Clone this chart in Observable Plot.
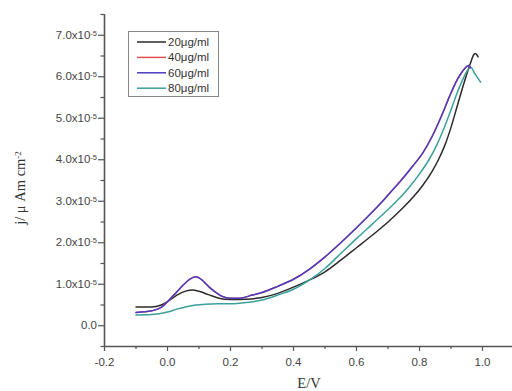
<!DOCTYPE html>
<html><head><meta charset="utf-8">
<script src="https://cdn.jsdelivr.net/npm/d3@7"></script>
<script src="https://cdn.jsdelivr.net/npm/@observablehq/plot@0.6"></script>
<style>body{margin:0;background:#fff} svg{display:block}</style>
</head><body><div id="chart"></div>
<script>
// Values of j are in units of 1e-5 A cm^-2
const seriesNames = ["20μg/ml", "40μg/ml", "60μg/ml", "80μg/ml"];
const seriesColors = ["#2b2b2b", "#e0524f", "#4b3cc4", "#3c9f9b"];

const E20 = [-0.10,-0.05,-0.02,0.00,0.03,0.06,0.08,0.10,0.13,0.16,0.20,0.25,0.30,0.35,0.40,0.45,0.50,0.55,0.60,0.65,0.70,0.75,0.78,0.81,0.84,0.86,0.88,0.90,0.92,0.94,0.955,0.965,0.972,0.977,0.986];
const J20 = [0.45,0.45,0.50,0.58,0.74,0.84,0.86,0.83,0.75,0.67,0.63,0.64,0.68,0.78,0.93,1.10,1.30,1.58,1.88,2.18,2.50,2.86,3.10,3.38,3.72,4.00,4.34,4.78,5.30,5.82,6.18,6.40,6.53,6.56,6.48];

const E40 = [-0.10,-0.05,-0.02,0.00,0.03,0.05,0.07,0.09,0.11,0.13,0.15,0.17,0.20,0.23,0.26,0.30,0.35,0.40,0.45,0.50,0.55,0.60,0.65,0.69,0.72,0.75,0.78,0.81,0.84,0.87,0.895,0.915,0.93,0.945,0.955,0.962];
const J40 = [0.32,0.36,0.44,0.58,0.82,0.98,1.12,1.18,1.10,0.95,0.82,0.72,0.66,0.66,0.72,0.80,0.95,1.12,1.36,1.66,2.00,2.36,2.74,3.06,3.32,3.58,3.86,4.16,4.56,5.06,5.52,5.86,6.06,6.21,6.27,6.22];

const E60 = E40;
const J60 = J40;

const E80 = [-0.10,-0.05,0.00,0.03,0.06,0.09,0.12,0.16,0.20,0.25,0.30,0.35,0.40,0.45,0.50,0.55,0.60,0.65,0.70,0.74,0.77,0.80,0.83,0.855,0.88,0.90,0.92,0.94,0.955,0.963,0.975,0.994];
const J80 = [0.26,0.27,0.33,0.40,0.46,0.50,0.52,0.53,0.53,0.56,0.62,0.74,0.88,1.10,1.38,1.74,2.10,2.45,2.80,3.10,3.36,3.66,4.00,4.36,4.80,5.20,5.62,5.98,6.18,6.23,6.08,5.87];

const xMajor = [-0.2,0.0,0.2,0.4,0.6,0.8,1.0];
const xMinor = [-0.1,0.1,0.3,0.5,0.7,0.9];
const yMajor = [0,1,2,3,4,5,6,7];
const yMinor = [-0.5,0.5,1.5,2.5,3.5,4.5,5.5,6.5,7.5];

const toRows = (E, J, s) => E.map((e, i) => ({E: e, j: J[i], s}));
const order = [0, 3, 1, 2];
const allE = [E20, E40, E60, E80], allJ = [J20, J40, J60, J80];
const rows = order.flatMap(k => toRows(allE[k], allJ[k], seriesNames[k]));

const axisColor = "#555";
const plot = Plot.plot({
  width: 512, height: 391,
  marginLeft: 104, marginRight: 0, marginTop: 14, marginBottom: 45,
  style: {fontFamily: "'Liberation Sans', Arial, sans-serif", fontSize: "11.5px", color: "#444", background: "#fff"},
  x: {domain: [-0.2, 1.0952]},
  y: {domain: [-0.5, 7.5]},
  color: {domain: seriesNames, range: seriesColors},
  marks: [
    Plot.line(rows, {x: "E", y: "j", z: "s", stroke: "s", strokeWidth: 1.5, curve: "monotone-x"}),
    Plot.axisX({ticks: xMajor, tickSize: 5, tickPadding: 6, stroke: axisColor, strokeWidth: 1.2, tickFormat: d => d.toFixed(1), label: null}),
    Plot.axisX({ticks: xMinor, tickSize: 3, stroke: axisColor, strokeWidth: 1.2, tickFormat: () => "", label: null}),
    Plot.axisY({ticks: yMajor, tickSize: 6, tickPadding: 1.5, stroke: axisColor, strokeWidth: 1.2, tickFormat: d => d === 0 ? "0.0" : d.toFixed(1) + "x10", label: null}),
    Plot.axisY({ticks: yMinor, tickSize: 3.5, stroke: axisColor, strokeWidth: 1.2, tickFormat: () => "", label: null}),
    Plot.ruleX([-0.2], {stroke: axisColor, strokeWidth: 1.6}),
    Plot.ruleY([-0.5], {stroke: axisColor, strokeWidth: 1.6})
  ]
});

const svg = d3.select(plot);
// superscripts on y tick labels
svg.selectAll('g[aria-label="y-axis tick label"] text').each(function() {
  const t = d3.select(this);
  const s = t.text();
  if (s !== "" && s !== "0.0") {
    t.append("tspan").attr("dy", "-0.45em").attr("font-size", "7.5px").text("-5");
  }
});

// axis titles
const serif = "'Liberation Serif', 'Times New Roman', serif";
const yl = svg.append("text")
  .attr("transform", "translate(25,188) rotate(-90)")
  .attr("text-anchor", "middle")
  .attr("font-family", serif).attr("font-size", "14.5px").attr("fill", "#333");
yl.append("tspan").text("j/ μ Am cm");
yl.append("tspan").attr("dy", "-0.5em").attr("font-size", "9px").text("-2");

svg.append("text").attr("x", 309).attr("y", 388).attr("text-anchor", "middle")
  .attr("font-family", serif).attr("font-size", "14.5px").attr("fill", "#333").text("E/V");

// legend
const lg = svg.append("g").attr("font-family", "'Liberation Sans', Arial, sans-serif")
  .attr("font-size", "11.5px").attr("fill", "#333").attr("text-anchor", "start");
lg.append("rect").attr("x", 128.5).attr("y", 31.5).attr("width", 90).attr("height", 65)
  .attr("fill", "#fff").attr("stroke", "#888").attr("stroke-width", 1);
seriesNames.forEach((name, i) => {
  const y = 42 + i * 15.4;
  lg.append("line").attr("x1", 137).attr("x2", 166).attr("y1", y).attr("y2", y)
    .attr("stroke", seriesColors[i]).attr("stroke-width", 1.5);
  lg.append("text").attr("x", 168).attr("y", y).attr("dy", "0.35em").text(name);
});

document.getElementById("chart").appendChild(plot);
</script>
</body></html>
